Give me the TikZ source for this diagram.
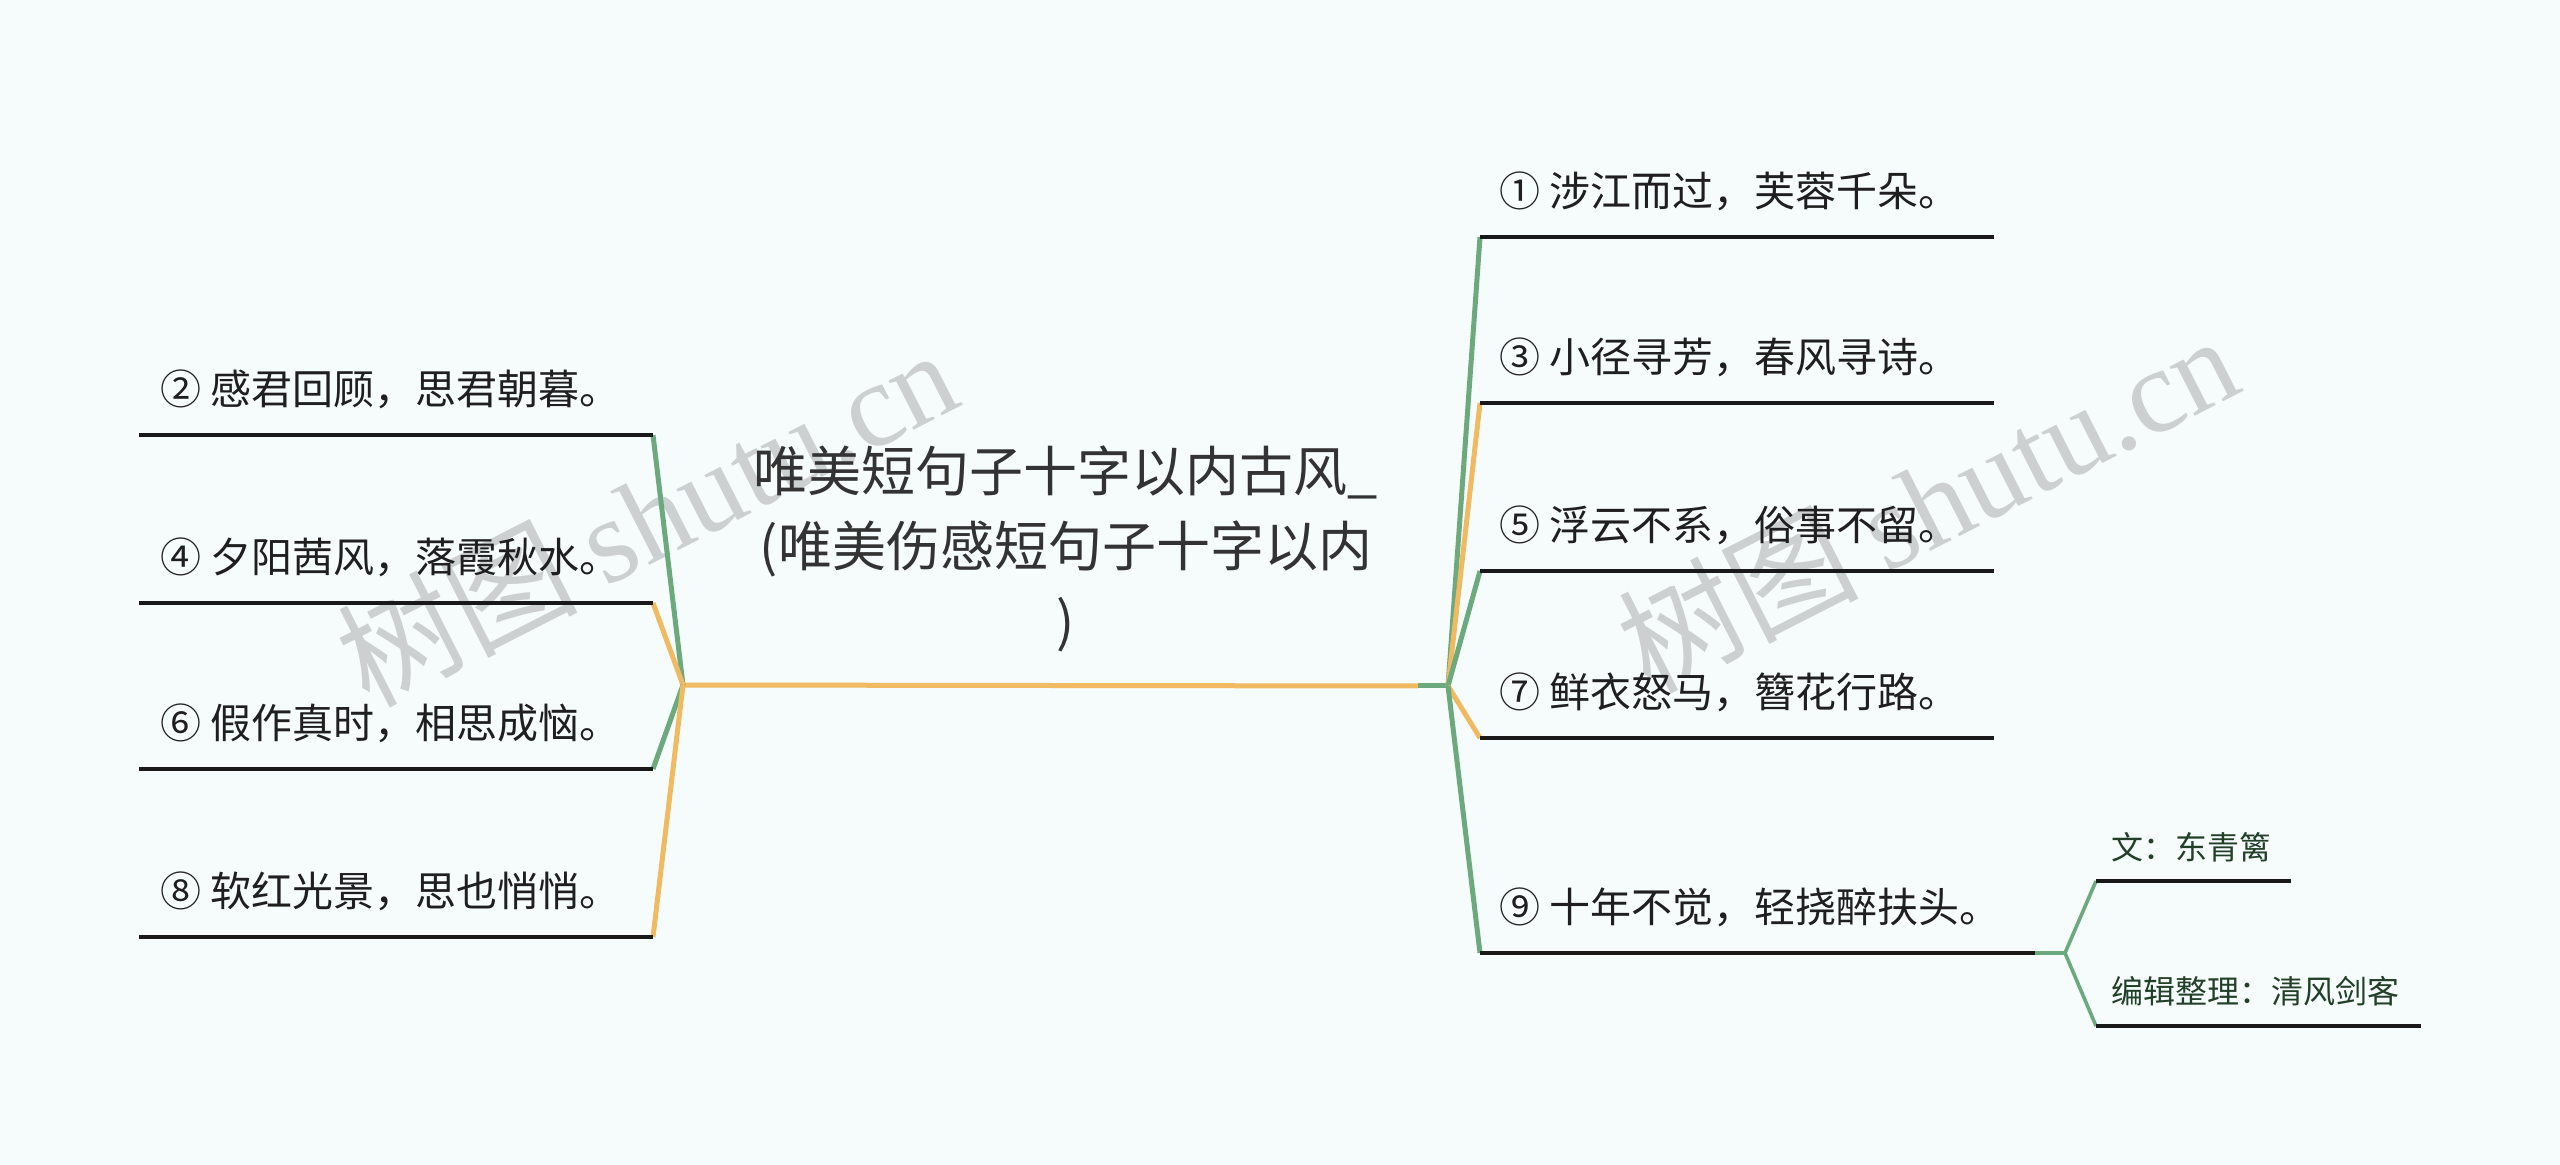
\documentclass[tikz,border=0pt]{standalone}
\usepackage{fontspec}
\setmainfont{Noto Sans CJK SC}
\newfontfamily\wmlatin{Liberation Serif}
\newfontfamily\wmcjk{Noto Sans CJK SC}
\usetikzlibrary{positioning}
\definecolor{bgcol}{RGB}{246,251,252}
\definecolor{branchgreen}{RGB}{108,170,126}
\definecolor{branchorange}{RGB}{239,186,98}
\definecolor{titlegray}{RGB}{51,51,51}
\definecolor{notegreen}{RGB}{34,64,40}
\definecolor{wmgray}{RGB}{204,208,208}

\begin{document}
\begin{tikzpicture}[x=0.5pt,y=-0.5pt,
    topictext/.style={align=center,inner sep=0pt,text=titlegray,font=\fontsize{27}{37.5}\selectfont},
    leaftext/.style={anchor=west,inner sep=0pt,text=black!88,font=\fontsize{20.5}{24}\selectfont},
    notetext/.style={anchor=west,inner sep=0pt,text=notegreen,font=\fontsize{16}{20}\selectfont},
    ulbar/.style={line width=2.2pt,black!90},
    notebar/.style={line width=2pt,black!90},
    branchlink/.style={line width=2.5pt},
    notelink/.style={line width=1.8pt,branchgreen},
    watermark/.style={rotate=27,inner sep=0pt,text=wmgray}]
            % Canvas
            \useasboundingbox (0,0) rectangle (2560,1165);
            \fill[bgcol] (0,0) rectangle (2560,1165);

            % Watermarks
            \node[watermark] (wmleft) at (646,516) {\fontsize{60}{66}\selectfont\wmcjk 树图\ \wmlatin shutu.cn};
            \node[watermark] (wmright) at (1927,502) {\fontsize{60}{66}\selectfont\wmcjk 树图\ \wmlatin shutu.cn};

            % Central topic
            \coordinate (lhub) at (683,685);
            \coordinate (mainjoin) at (1418,686);
            \coordinate (rhub) at (1448,686);
            \node[topictext] (topic) at (1066,549) {唯美短句子十字以内古风\_\\(唯美伤感短句子十字以内\\)};
            \draw[branchlink,branchorange] (lhub) -- (mainjoin);
            \draw[branchlink,branchgreen] (mainjoin) -- (rhub);

            % Left branches
            \foreach \n/\y/\col/\txt in {2/435/branchgreen/{② 感君回顾，思君朝暮。},
                                         4/603/branchorange/{④ 夕阳茜风，落霞秋水。},
                                         6/769/branchgreen/{⑥ 假作真时，相思成恼。},
                                         8/937/branchorange/{⑧ 软红光景，思也悄悄。}} {
                \coordinate (ul\n-start) at (139,\y);
                \coordinate (ul\n-end) at (653,\y);
                \draw[branchlink,\col] (lhub) -- (ul\n-end);
                \draw[ulbar] (ul\n-start) -- (ul\n-end);
                \node[leaftext] (leaf\n) at (160,\y-46) {\txt};
            }

            % Right branches
            \foreach \n/\y/\xend/\col/\txt in {1/237/1994/branchgreen/{① 涉江而过，芙蓉千朵。},
                                               3/403/1994/branchorange/{③ 小径寻芳，春风寻诗。},
                                               5/571/1994/branchgreen/{⑤ 浮云不系，俗事不留。},
                                               7/738/1994/branchorange/{⑦ 鲜衣怒马，簪花行路。},
                                               9/953/2035/branchgreen/{⑨ 十年不觉，轻挠醉扶头。}} {
                \coordinate (ul\n-start) at (1480,\y);
                \coordinate (ul\n-end) at (\xend,\y);
                \draw[branchlink,\col] (rhub) -- (ul\n-start);
                \draw[ulbar] (ul\n-start) -- (ul\n-end);
                \node[leaftext] (leaf\n) at (1499,\y-46) {\txt};
            }

            % Notes on branch 9
            \coordinate (subhub) at (2065,953);
            \coordinate (authorbar-start) at (2096,881);
            \coordinate (authorbar-end) at (2291,881);
            \coordinate (editorbar-start) at (2096,1026);
            \coordinate (editorbar-end) at (2421,1026);
            \draw[notelink] (ul9-end) -- (subhub);
            \draw[notelink] (subhub) -- (authorbar-start);
            \draw[notelink] (subhub) -- (editorbar-start);
            \draw[notebar] (authorbar-start) -- (authorbar-end);
            \draw[notebar] (editorbar-start) -- (editorbar-end);
            \node[notetext] (author) at (2111,847) {文：东青篱};
            \node[notetext] (editor) at (2111,991) {编辑整理：清风剑客};
        \end{tikzpicture}
\end{document}
